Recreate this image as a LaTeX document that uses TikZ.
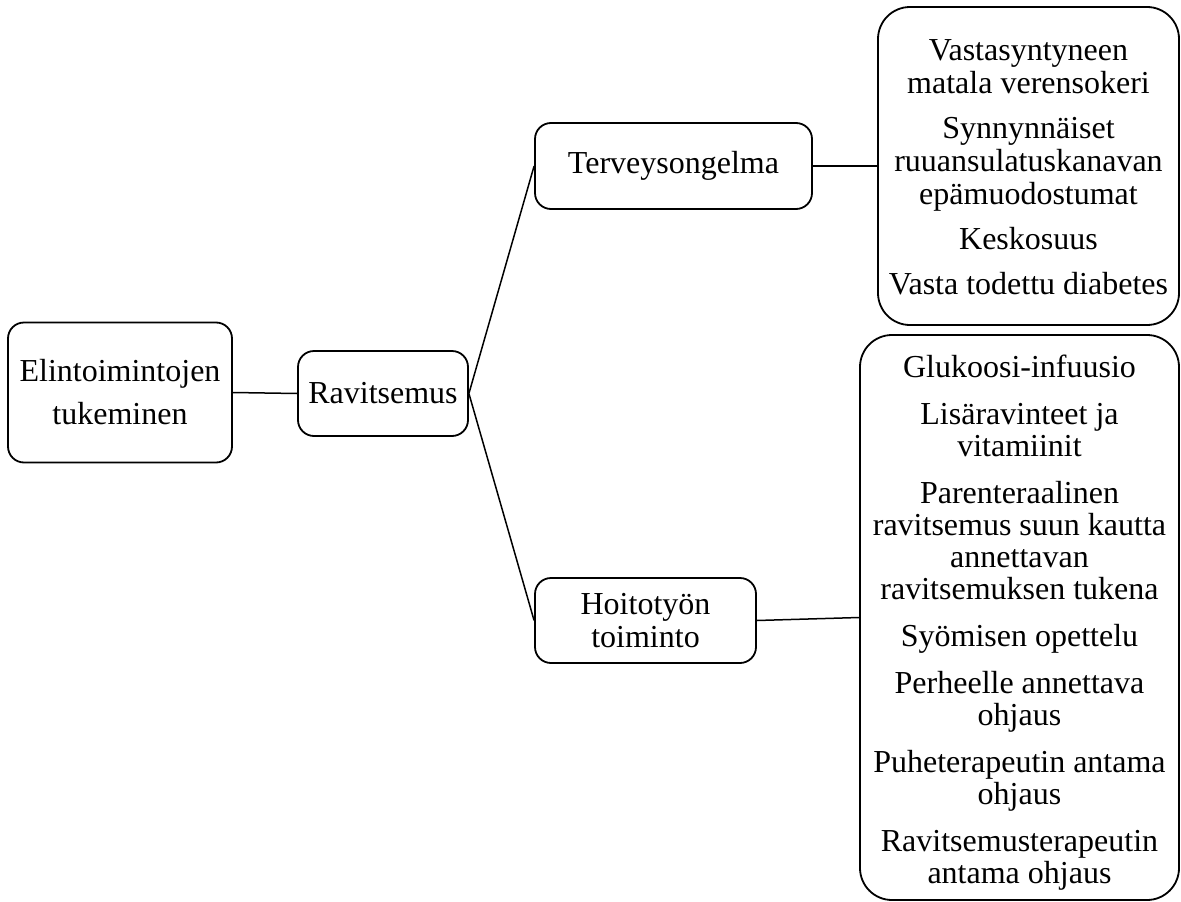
\documentclass[tikz,border=0pt]{standalone}
\usepackage{fontspec}
\setmainfont{Liberation Serif}
\begin{document}
\begin{tikzpicture}[x=1pt,y=-1pt,
  box/.style={draw=black,line width=1.8pt,rounded corners=16pt,fill=white,align=center,inner sep=0pt,
    font=\fontsize{32}{33}\selectfont},
  bigbox/.style={draw=black,line width=1.8pt,rounded corners=32pt,fill=white,inner sep=0pt},
  boxtext/.style={align=center,inner sep=0pt},
  conn/.style={draw=black,line width=1.5pt}]
\useasboundingbox (0,0) rectangle (1181,902);
\node[box,minimum width=224pt,minimum height=140pt,font=\fontsize{32}{43}\selectfont] (E) at (120,392.5) {Elintoimintojen\\tukeminen};
\node[box,minimum width=170pt,minimum height=85pt] (R) at (383,393.5) {Ravitsemus};
\node[box,minimum width=277pt,minimum height=86pt] (T) at (673.5,166) {Terveysongelma};
\node[box,minimum width=221pt,minimum height=85pt] (H) at (645.5,620.5) {Hoitotyön\\toiminto};
\node[bigbox,minimum width=301pt,minimum height=318pt] (A) at (1028.5,166) {};
\node[boxtext,font=\fontsize{32}{33}\selectfont] (Atext) at (1028.5,167)
  {Vastasyntyneen\\matala verensokeri\\[12pt]Synnynnäiset\\ruuansulatuskanavan\\epämuodostumat\\[12pt]Keskosuus\\[12pt]Vasta todettu diabetes};
\node[bigbox,minimum width=319pt,minimum height=565pt] (B) at (1019.5,617.5) {};
\node[boxtext,font=\fontsize{32}{32}\selectfont] (Btext) at (1019.5,623)
  {Glukoosi-infuusio\\[15pt]Lisäravinteet ja\\vitamiinit\\[15pt]Parenteraalinen\\ravitsemus suun kautta\\annettavan\\ravitsemuksen tukena\\[15pt]Syömisen opettelu\\[15pt]Perheelle annettava\\ohjaus\\[15pt]Puheterapeutin antama\\ohjaus\\[15pt]Ravitsemusterapeutin\\antama ohjaus};
\draw[conn] (E.east) -- (R.west);
\draw[conn] (R.east) -- (T.west);
\draw[conn] (R.east) -- (H.west);
\draw[conn] (T.east) -- (A.west);
\draw[conn] (H.east) -- (B.west);
\end{tikzpicture}
\end{document}
